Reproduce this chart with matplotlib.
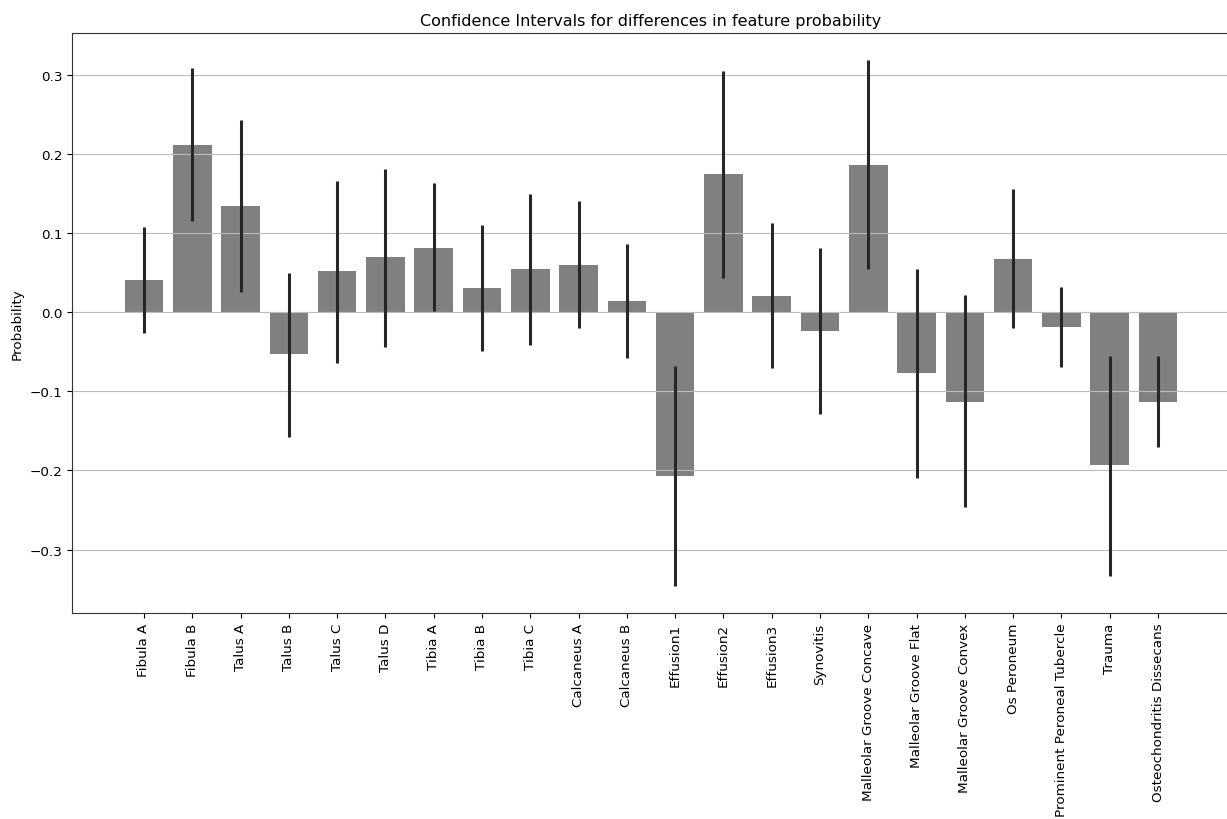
"""
Bar chart of differences in feature probability with confidence intervals.
"""
import numpy as np
import matplotlib
matplotlib.use("Agg")
import matplotlib.pyplot as plt

features = ["Fibula A", "Fibula B", "Talus A", "Talus B", "Talus C", "Talus D",
            "Tibia A", "Tibia B", "Tibia C", "Calcaneus A", "Calcaneus B",
            "Effusion1", "Effusion2", "Effusion3", "Synovitis",
            "Malleolar Groove Concave", "Malleolar Groove Flat",
            "Malleolar Groove Convex", "Os Peroneum",
            "Prominent Peroneal Tubercle", "Trauma", "Osteochondritis Dissecans"]

# point estimate of the difference
diff = [0.0405, 0.2105, 0.1335, -0.053, 0.0515, 0.069,
        0.081, 0.030, 0.0545, 0.060, 0.0145,
        -0.2075, 0.174, 0.020, -0.024,
        0.186, -0.0775, -0.113, 0.0665,
        -0.0185, -0.1935, -0.113]

# confidence interval bounds
ci_low = [-0.027, 0.1145, 0.025, -0.158, -0.064, -0.0445,
          0.001, -0.0495, -0.041, -0.020, -0.0585,
          -0.346, 0.043, -0.071, -0.129,
          0.055, -0.209, -0.246, -0.020,
          -0.069, -0.3335, -0.1705]
ci_high = [0.107, 0.3085, 0.242, 0.0495, 0.165, 0.181,
           0.1635, 0.1105, 0.1495, 0.1405, 0.086,
           -0.068, 0.305, 0.112, 0.0805,
           0.319, 0.0545, 0.021, 0.156,
           0.0315, -0.056, -0.056]

x = np.arange(len(features))

fig = plt.figure(figsize=(12.27, 8.2), dpi=100)
ax = fig.add_axes([72 / 1227, 206 / 820, 1158 / 1227, 580 / 820])

ax.bar(x, diff, width=0.8, color="gray")
ax.vlines(x, ci_low, ci_high, color="#262626", linewidth=2.2)

ax.set_xticks(x)
ax.set_xticklabels(features, rotation=90, fontsize=9.7)
ax.tick_params(axis="y", labelsize=9.7)
ax.set_ylabel("Probability", fontsize=9.7)
ax.set_title("Confidence Intervals for differences in feature probability", fontsize=11.5)
ax.grid(axis="y", color="#bdbdbd")
for s in ax.spines.values():
    s.set_color("#333333")
ax.set_xlim(-1.49, 22.49)
ax.set_ylim(-0.38, 0.3525)

fig.savefig("out.png", dpi=100)
